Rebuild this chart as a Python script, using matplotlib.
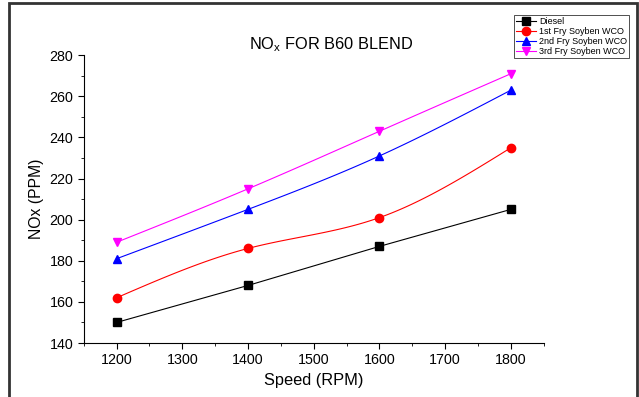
import numpy as np
import matplotlib
matplotlib.use("Agg")
import matplotlib.pyplot as plt
from matplotlib.ticker import MultipleLocator
from matplotlib.patches import Rectangle

plt.rcParams["font.family"] = ["Liberation Sans", "DejaVu Sans"]

# ── Data ──────────────────────────────────────────────────────
speed = [1200, 1400, 1600, 1800]
diesel = [150, 168, 187, 205]
fry1 = [162, 186, 201, 235]
fry2 = [181, 205, 231, 263]
fry3 = [189, 215, 243, 271]


def smooth(x, y, n=120):
    # natural cubic spline through the points, for drawing only
    x = np.asarray(x, float)
    y = np.asarray(y, float)
    k = len(x)
    h = np.diff(x)
    A = np.zeros((k, k))
    r = np.zeros(k)
    A[0, 0] = A[-1, -1] = 1
    for i in range(1, k - 1):
        A[i, i - 1] = h[i - 1]
        A[i, i] = 2 * (h[i - 1] + h[i])
        A[i, i + 1] = h[i]
        r[i] = 6 * ((y[i + 1] - y[i]) / h[i] - (y[i] - y[i - 1]) / h[i - 1])
    M = np.linalg.solve(A, r)
    xs = np.linspace(x[0], x[-1], n)
    idx = np.clip(np.searchsorted(x, xs) - 1, 0, k - 2)
    x0, x1 = x[idx], x[idx + 1]
    hh = x1 - x0
    a = (x1 - xs) / hh
    b = (xs - x0) / hh
    ys = (a * y[idx] + b * y[idx + 1]
          + ((a ** 3 - a) * M[idx] + (b ** 3 - b) * M[idx + 1]) * hh ** 2 / 6)
    return xs, ys


fig = plt.figure(figsize=(6.39, 3.97), dpi=100)
fig.patches.append(Rectangle((0.014, -0.02), 0.983, 1.012, transform=fig.transFigure,
                             fill=False, edgecolor="#333333", linewidth=2))
ax = fig.add_axes([0.131, 0.136, 0.72, 0.725])

series = [
    ("Diesel", diesel, "black", "s", False),
    ("1st Fry Soyben WCO", fry1, "red", "o", True),
    ("2nd Fry Soyben WCO", fry2, "blue", "^", True),
    ("3rd Fry Soyben WCO", fry3, "magenta", "v", True),
]
handles = []
for label, vals, col, mk, sm in series:
    if sm:
        xs, ys = smooth(speed, vals)
    else:
        xs, ys = speed, vals
    ax.plot(xs, ys, color=col, linewidth=0.8)
    ax.plot(speed, vals, linestyle="none", marker=mk, color=col, markersize=6)
    h, = ax.plot([], [], color=col, marker=mk, markersize=6, linewidth=0.8, label=label)
    handles.append(h)

ax.set_xlim(1150, 1850)
ax.set_ylim(140, 280)
ax.xaxis.set_major_locator(MultipleLocator(100))
ax.xaxis.set_minor_locator(MultipleLocator(50))
ax.yaxis.set_major_locator(MultipleLocator(20))
ax.yaxis.set_minor_locator(MultipleLocator(10))
for s in ["top", "right"]:
    ax.spines[s].set_visible(False)
ax.tick_params(which="major", length=4, labelsize=10.3)
ax.tick_params(which="minor", length=2.5)

ax.set_xlabel("Speed (RPM)", fontsize=11.8)
ax.set_ylabel("NOx (PPM)", fontsize=11.3)
fig.text(331 / 639, 1 - 45 / 397, "NO$_\\mathregular{x}$ FOR B60 BLEND",
         fontsize=11.8, ha="center", va="center")

leg = fig.legend(handles=handles, loc="upper right", bbox_to_anchor=(629 / 639, 1 - 15 / 397),
                 fontsize=6.5, frameon=True, fancybox=False, edgecolor="black",
                 handlelength=2.2, borderpad=0.2, labelspacing=0.12, handletextpad=0.4,
                 borderaxespad=0)
leg.get_frame().set_linewidth(0.6)

plt.savefig("out.png", dpi=100)
plt.close()
